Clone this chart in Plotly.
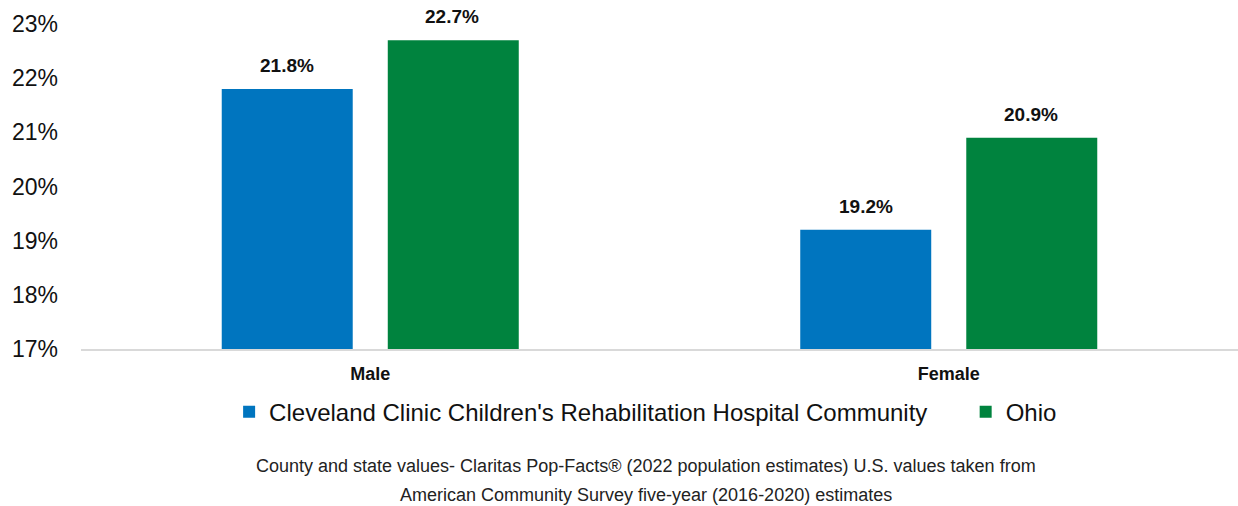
import plotly.graph_objects as go

categories = ["Male", "Female"]
community_vals = [21.8, 19.2]
ohio_vals = [22.7, 20.9]
series_names = ["Cleveland Clinic Children's Rehabilitation Hospital Community", "Ohio"]
colors = ["#0075BF", "#00833E"]
y_ticks = [17, 18, 19, 20, 21, 22, 23]
y_tick_labels = [f"{v}%" for v in y_ticks]
footer = ["County and state values- Claritas Pop-Facts\u00ae (2022 population estimates) U.S. values taken from",
          "American Community Survey five-year (2016-2020) estimates"]

FONT = "Liberation Sans, Arial, sans-serif"
fig = go.Figure()
bar_offsets = [-83, 82]
for k, (name, vals, col) in enumerate(zip(series_names, [community_vals, ohio_vals], colors)):
    fig.add_trace(go.Bar(
        x=categories, y=vals, name=name + ("\u00a0" * 5 if k == 0 else ""),
        marker=dict(color=col, line=dict(width=0)), cliponaxis=False,
    ))
    for c, v in zip(categories, vals):
        fig.add_annotation(x=c, y=v, xref="x", yref="y", text=f"<b>{v:.1f}%</b>",
                           showarrow=False, xshift=bar_offsets[k], yshift=11, yanchor="bottom",
                           font=dict(family=FONT, size=19, color="#111111"))

fig.update_layout(
    width=1238, height=506,
    margin=dict(l=81, r=0, t=24, b=157),
    plot_bgcolor="white", paper_bgcolor="white",
    barmode="group", bargap=0.426, bargroupgap=0.211,
    font=dict(family=FONT, color="#111111"),
    showlegend=True,
    legend=dict(orientation="h", x=0.488, xanchor="center", y=-0.194, yanchor="middle",
                font=dict(size=24, color="#111111"), traceorder="normal", itemwidth=30),
    yaxis=dict(range=[17, 23], tickvals=y_ticks, ticktext=y_tick_labels, showgrid=False,
               zeroline=False, showline=False, tickfont=dict(size=23, color="#111111"),
               ticks="", ticklabelstandoff=22, automargin=False),
    xaxis=dict(showline=True, linecolor="#D9D9D9", linewidth=2, ticks="",
               tickfont=dict(size=18, color="#111111"), ticklabelstandoff=7, automargin=False,
               tickvals=categories, ticktext=[f"<b>{c}</b>" for c in categories]),
)
for i, line in enumerate(footer):
    fig.add_annotation(text=line, xref="paper", yref="paper", x=0.488, xanchor="center",
                       y=-0.36 - i * 0.089, yanchor="middle", showarrow=False,
                       font=dict(family=FONT, size=18, color="#222222"))

fig.write_html("out.html", config={"displayModeBar": False},
               post_script="document.body.style.margin='0';")
